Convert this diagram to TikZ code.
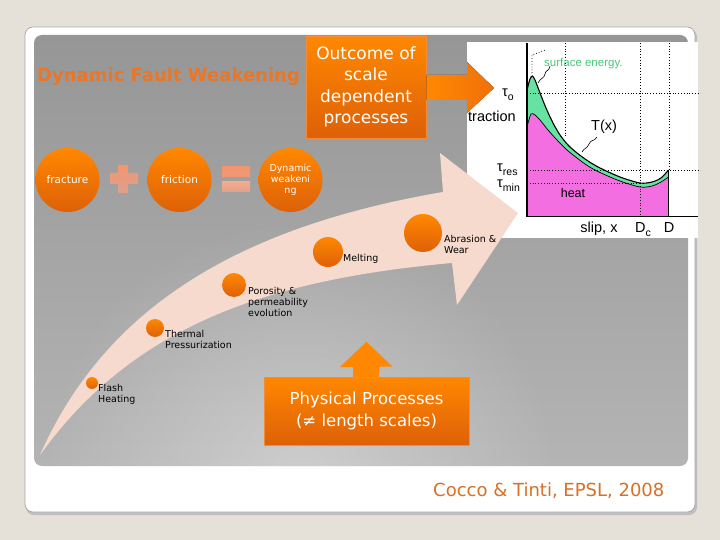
\documentclass[tikz,border=0pt]{standalone}
\usepackage{fontspec}
\setmainfont{DejaVu Sans}
\newfontfamily\arialf{Liberation Sans}
\usetikzlibrary{calc,fadings}
\tikzfading[name=softglow, inner color=transparent!0, outer color=transparent!100]
\definecolor{bgbeige}{RGB}{229,225,216}
\definecolor{panelTop}{RGB}{150,150,150}
\definecolor{panelBot}{RGB}{180,180,180}
\definecolor{orTop}{RGB}{255,136,0}
\definecolor{orBot}{RGB}{222,96,8}
\definecolor{titleOr}{RGB}{234,118,38}
\definecolor{peach}{RGB}{246,218,205}
\definecolor{mint}{RGB}{102,226,162}
\definecolor{heatpink}{RGB}{243,110,224}
\definecolor{seGreen}{RGB}{70,200,120}
\definecolor{citeOr}{RGB}{216,112,38}
\definecolor{salTop}{RGB}{242,150,112}
\definecolor{salBot}{RGB}{222,160,140}
\newcommand\tsub[1]{\raisebox{-0.45ex}{\fontsize{10.5}{12}\selectfont #1}}
\tikzset{
  orball/.style={circle, top color=orTop, bottom color=orBot, draw=none, inner sep=0pt},
  bigball/.style={orball, minimum size=64pt, text=white, align=center},
  plabel/.style={anchor=north west, inner sep=0pt, align=left, font=\fontsize{9.5}{11}\selectfont},
  obox/.style={rectangle, top color=orTop, bottom color=orBot, draw={rgb,255:red,240;green,140;blue,60}, line width=0.6pt, text=white, align=center, inner sep=0pt},
  gtext/.style={inner sep=0pt, font=\arialf\fontsize{14.5}{16}\selectfont},
  gdot/.style={dotted, line width=0.8pt},
}
\begin{document}
\begin{tikzpicture}[x=1pt,y=-1pt]
\useasboundingbox (0,0) rectangle (720,540);
\fill[bgbeige] (0,0) rectangle (720,540);
% card
\fill[black!25, rounded corners=8pt] (26,29) rectangle (697,515);
\fill[white, draw=black!35, line width=0.7pt, rounded corners=8pt] (25,27) rectangle (695,512);
% gray panel
\shade[top color=panelTop, bottom color=panelBot, rounded corners=8pt] (34,35) rectangle (688,466);
\begin{scope}
  \clip[rounded corners=8pt] (34,35) rectangle (688,466);
  \fill[white, opacity=0.35, path fading=softglow] (300,480) circle (260);
\end{scope}
% title
\node[anchor=base west, inner sep=0pt, text=titleOr, font=\bfseries\fontsize{18}{20}\selectfont] (title) at (37,82) {Dynamic Fault Weakening};
% graph image background
\node[fill=white, draw=none, minimum width=231pt, minimum height=196pt, anchor=north west, inner sep=0pt] (graph) at (467,42) {};
% big peach arrow
\fill[peach] (40,455) .. controls (100,320) and (220,230) .. (443,192) -- (440,153) -- (518,213) -- (457,305) -- (452,263) .. controls (260,280) and (130,330) .. (40,455) -- cycle;
% plus and equals
\shade[top color=salTop, bottom color=salBot] (118,165) rectangle (128,193) (110,173) rectangle (138,184);
\shade[top color=salTop, bottom color=salTop!85!salBot] (222,167) rectangle (250,177);
\shade[top color=salTop!80!white, bottom color=salBot] (222,182) rectangle (250,192);
% top balls
\node[bigball, font=\fontsize{10.5}{12}\selectfont] (frac) at (67.5,180) {fracture};
\node[bigball, font=\fontsize{10.5}{12}\selectfont] (fric) at (179.5,180) {friction};
\node[bigball, font=\fontsize{9.5}{11}\selectfont] (dynw) at (290.5,180) {Dynamic\\weakeni\\ng};
% outcome box and arrow
\node[obox, minimum width=120pt, minimum height=102pt, font=\fontsize{17}{21.5}\selectfont] (outc) at (366,87) {Outcome of\\scale\\dependent\\processes};
\coordinate (tipA) at (494,88);
\fill[left color=orTop, right color={rgb,255:red,240;green,112;blue,10}] ($(outc.east)+(0.3,-12)$) -- (467,75) -- (467,62) -- (tipA) -- (467,113) -- (467,100) -- ($(outc.east)+(0.3,13)$) -- cycle;
% process balls and labels
\node[orball, minimum size=12pt] (fh) at (92,383) {};
\node[orball, minimum size=18pt] (tp) at (155,328) {};
\node[orball, minimum size=24pt] (po) at (234,285) {};
\node[orball, minimum size=30pt] (me) at (328,252) {};
\node[orball, minimum size=38pt] (ab) at (423,233) {};
\node[plabel] (fhl) at (98,384.5) {Flash\\Heating};
\node[plabel] (tpl) at (165,330) {Thermal\\Pressurization};
\node[plabel] (pol) at (248,287) {Porosity \&\\permeability\\evolution};
\node[plabel] (mel) at (343,254) {Melting};
\node[plabel] (abl) at (444,235) {Abrasion \&\\Wear};
% physical processes
\node[obox, minimum width=205pt, minimum height=68pt, font=\fontsize{16.5}{22.5}\selectfont] (phys) at (366.5,411) {Physical Processes\\(≠ length scales)};
\fill[orTop] ($(phys.north)+(-13.5,0.3)$) -- ++(0,-10) -- ++(-13,0) -- ($(phys.north)+(0,-35)$) -- ++(26,25) -- ++(-13,0) -- ($(phys.north)+(12.5,0.3)$) -- cycle;
% citation
\node[anchor=base west, inner sep=0pt, text=citeOr, font=\fontsize{18}{20}\selectfont] (cite) at (433,496) {Cocco \& Tinti, EPSL, 2008};
% ---- graph content ----
\def\Upts{(527.5,88) (530,79) (532.3,76) (535,80) (540,93) (546,108) (553,123) (560,135) (568,145) (577,153) (588,161) (600,168) (620,177) (640,183) (652,182) (661,178) (668.5,170)}
\def\Lpts{(527.5,125) (531,114) (535,115) (540,120) (548,130) (557,140) (567,150) (577,158) (588,166) (600,172.5) (620,181) (640,187) (652,186) (661,182) (668.5,177)}
\def\Lrev{(668.5,177) (661,182) (652,186) (640,187) (620,181) (600,172.5) (588,166) (577,158) (567,150) (557,140) (548,130) (540,120) (535,115) (531,114) (527.5,125)}
\fill[heatpink] (527.5,216) -- plot[smooth, tension=0.5] coordinates {\Lpts} -- (668.5,216) -- cycle;
\fill[mint] plot[smooth, tension=0.5] coordinates {\Upts} -- plot[smooth, tension=0.5] coordinates {\Lrev} -- cycle;
% dotted guides
\draw[gdot] (527,93) -- (698,93);
\draw[gdot] (527,170) -- (698,170);
\draw[gdot] (527,183) -- (640,183);
\draw[gdot] (565,43) -- (565,136);
\draw[gdot] (640,43) -- (640,216);
\draw[gdot] (669,43) -- (669,170);
\draw[gdot] (532,73) -- (532,55) -- (545,50);
% curves and axes
\draw[line width=1.1pt] plot[smooth, tension=0.5] coordinates {\Upts};
\draw[line width=0.7pt] plot[smooth, tension=0.5] coordinates {\Lpts};
\draw[line width=2pt] (527,43) -- (527,217);
\draw[line width=0.9pt] (527,216) -- (698,216);
\draw[line width=1pt] (668.5,170) -- (668.5,216);
% squiggles
\draw[line width=0.6pt] (550,66) .. controls (549,72) and (546,69) .. (545,74) .. controls (544,79) and (541,77) .. (538,83);
\draw[line width=0.6pt] (597,137) .. controls (594,142) and (591,139) .. (589,144) .. controls (587,149) and (585,147) .. (582,152);
% graph labels
\node[anchor=base west, inner sep=0pt, text=seGreen, font=\arialf\fontsize{11.5}{13}\selectfont] (se) at (544,67) {surface energy.};
\node[gtext, anchor=base west] (tauo) at (502,97) {τ\tsub{o}};
\node[gtext, anchor=base west] (trac) at (468,122) {traction};
\node[gtext, anchor=base west] (tx) at (591,131) {T(x)};
\node[gtext, anchor=base west] (taur) at (497,172) {τ\tsub{res}};
\node[gtext, anchor=base west] (taum) at (497,188) {τ\tsub{min}};
\node[anchor=base, inner sep=0pt, font=\arialf\fontsize{12.5}{14}\selectfont] (heat) at (573,198) {heat};
\node[gtext, anchor=base] (slip) at (599,233) {slip, x};
\node[gtext, anchor=base] (dc) at (643,233) {D\tsub{c}};
\node[gtext, anchor=base] (dd) at (669,233) {D};
\end{tikzpicture}
\end{document}
